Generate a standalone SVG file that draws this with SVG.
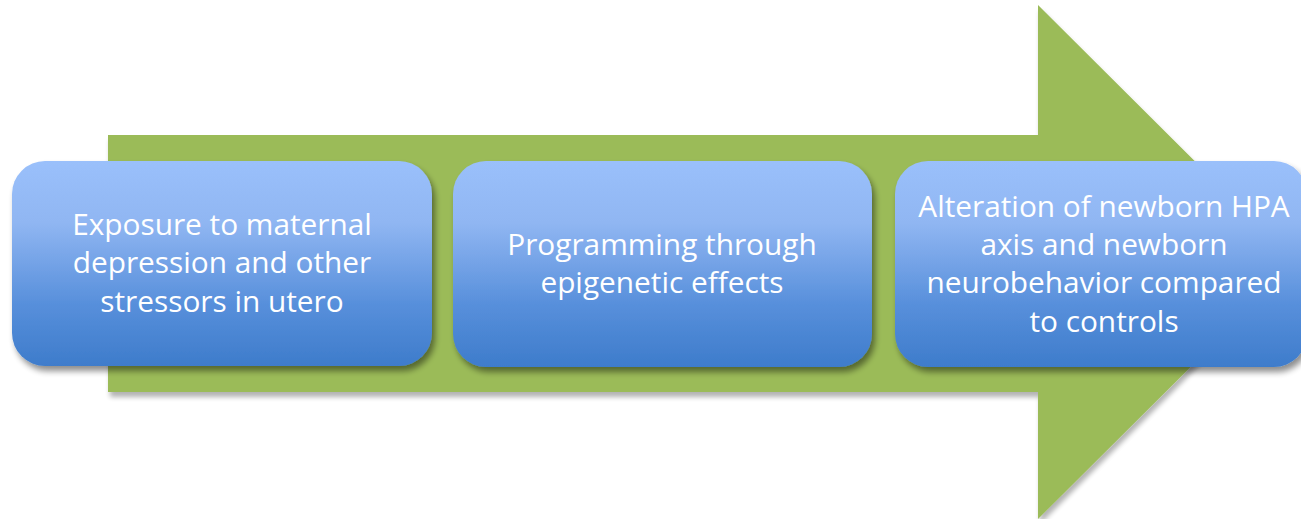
<svg xmlns="http://www.w3.org/2000/svg" width="1301" height="519" viewBox="0 0 1301 519">
<defs>
<linearGradient id="blue" x1="0" y1="0" x2="0" y2="1">
<stop offset="0" stop-color="#9ac0fb"/>
<stop offset="0.3" stop-color="#90b6f2"/>
<stop offset="0.7" stop-color="#578fdb"/>
<stop offset="1" stop-color="#3e7ccb"/>
</linearGradient>
<filter id="sh" x="-10%" y="-10%" width="130%" height="130%">
<feGaussianBlur in="SourceAlpha" stdDeviation="3"/>
<feOffset dx="3" dy="5" result="b"/>
<feComponentTransfer><feFuncA type="linear" slope="0.45"/></feComponentTransfer>
<feMerge><feMergeNode/><feMergeNode in="SourceGraphic"/></feMerge>
</filter>
<filter id="ash" x="-5%" y="-5%" width="110%" height="115%">
<feGaussianBlur in="SourceAlpha" stdDeviation="2.5"/>
<feOffset dx="2" dy="5" result="b"/>
<feComponentTransfer><feFuncA type="linear" slope="0.3"/></feComponentTransfer>
<feMerge><feMergeNode/><feMergeNode in="SourceGraphic"/></feMerge>
</filter>
</defs>
<style>
.box{fill:url(#blue);filter:url(#sh)}
.t{font-family:"Open Sans","Noto Sans","Liberation Sans",sans-serif;font-size:29.8px;fill:#ffffff;text-anchor:middle}
</style>
<g id="arrow">
<polygon points="108,135 1038,135 1038,5 1296,262 1038,519 1038,392 108,392" fill="#9bbb59" filter="url(#ash)"/>
</g>
<g id="connectors"></g>
<g id="node1">
<rect class="box" x="12" y="161" width="420" height="205" rx="33"/>
<text class="t" x="222" y="235">Exposure to maternal</text>
<text class="t" x="222" y="273">depression and other</text>
<text class="t" x="222" y="312">stressors in utero</text>
</g>
<g id="node2">
<rect class="box" x="453" y="161" width="419" height="206" rx="33"/>
<text class="t" x="662" y="255">Programming through</text>
<text class="t" x="662" y="293">epigenetic effects</text>
</g>
<g id="node3">
<rect class="box" x="895" y="161" width="412" height="206" rx="33"/>
<text class="t" x="1104" y="217">Alteration of newborn HPA</text>
<text class="t" x="1104" y="255">axis and newborn</text>
<text class="t" x="1104" y="293">neurobehavior compared</text>
<text class="t" x="1104" y="332">to controls</text>
</g>
</svg>
